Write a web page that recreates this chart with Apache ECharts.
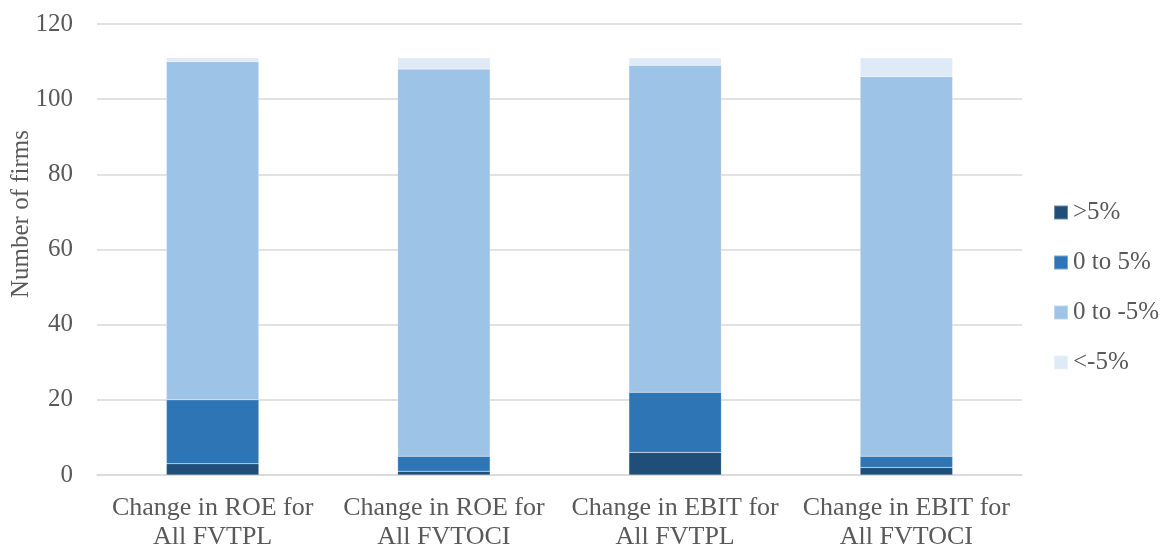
<!DOCTYPE html>
<html>
<head>
<meta charset="utf-8">
<script src="https://cdn.jsdelivr.net/npm/echarts@6/dist/echarts.min.js"></script>
<style>
  html, body { margin: 0; padding: 0; background: #ffffff; }
  #chart { width: 1165px; height: 548px; }
</style>
</head>
<body>
<div id="chart"></div>
<script>
// Categories (two-line axis labels)
const categories = [
  'Change in ROE for\nAll FVTPL',
  'Change in ROE for\nAll FVTOCI',
  'Change in EBIT for\nAll FVTPL',
  'Change in EBIT for\nAll FVTOCI'
];

// Number of firms in each band of change
const above5 = [3, 1, 6, 2];             // >5%
const zeroTo5 = [17, 4, 16, 3];          // 0 to 5%
const zeroToMinus5 = [90, 103, 87, 101]; // 0 to -5%
const belowMinus5 = [1, 3, 2, 5];        // <-5%

const seriesNames = ['>5%', '0 to 5%', '0 to -5%', '<-5%'];
const yTicks = { min: 0, max: 120, interval: 20 };

const colors = ['#1f4e79', '#2e75b6', '#9dc3e6', '#deebf7'];
const font = 'Liberation Serif, Times New Roman, serif';
const textColor = '#595959';
const fontSize = 25;

const chart = echarts.init(document.getElementById('chart'));

const makeSeries = (name, data, color) => ({
  name: name,
  type: 'bar',
  stack: 'firms',
  data: data,
  barWidth: '40%',
  itemStyle: { color: color, borderColor: 'rgba(255,255,255,0.35)', borderWidth: 0.5 },
  emphasis: { disabled: true }
});

chart.setOption({
  animation: false,
  textStyle: { fontFamily: font },
  grid: { left: 97, right: 143, top: 24, bottom: 73, containLabel: false, outerBoundsMode: 'none' },
  legend: {
    orient: 'vertical',
    left: 1048,
    top: 195,
    itemWidth: 14,
    itemHeight: 14,
    itemGap: 25,
    icon: 'rect',
    data: seriesNames,
    textStyle: { fontFamily: font, fontSize: fontSize, lineHeight: 25, color: textColor }
  },
  xAxis: {
    type: 'category',
    data: categories,
    axisLine: { lineStyle: { color: '#d9d9d9', width: 1.5 } },
    axisTick: { show: false },
    axisLabel: {
      fontFamily: font,
      fontSize: 26,
      color: textColor,
      lineHeight: 29,
      margin: 19,
      interval: 0
    }
  },
  yAxis: {
    type: 'value',
    min: yTicks.min,
    max: yTicks.max,
    interval: yTicks.interval,
    axisLine: { show: false },
    axisTick: { show: false },
    splitLine: { lineStyle: { color: '#d9d9d9', width: 1.5 } },
    axisLabel: { fontFamily: font, fontSize: fontSize, color: textColor, margin: 24 }
  },
  graphic: [{
    type: 'text',
    x: 21,
    y: 214,
    rotation: Math.PI / 2,
    style: {
      text: 'Number of firms',
      fontFamily: font,
      fontSize: fontSize,
      fill: textColor,
      textAlign: 'center',
      textVerticalAlign: 'middle'
    }
  }],
  series: [
    makeSeries(seriesNames[0], above5, colors[0]),
    makeSeries(seriesNames[1], zeroTo5, colors[1]),
    makeSeries(seriesNames[2], zeroToMinus5, colors[2]),
    makeSeries(seriesNames[3], belowMinus5, colors[3])
  ]
});
</script>
</body>
</html>
